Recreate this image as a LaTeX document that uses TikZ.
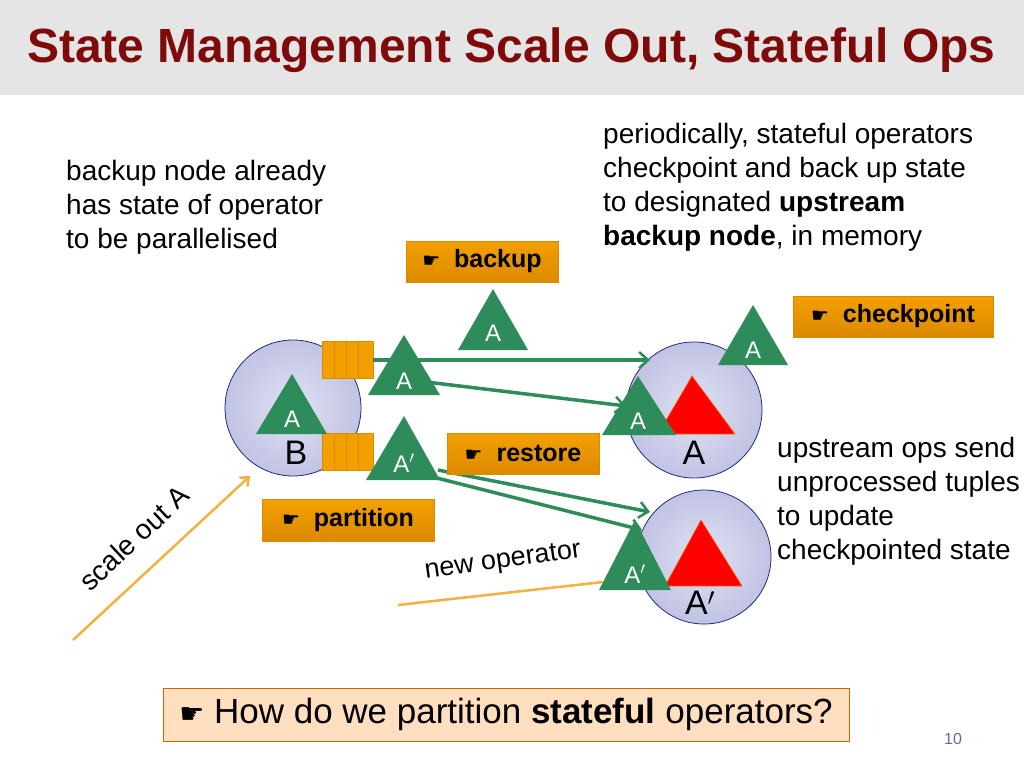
\documentclass[tikz,border=0pt]{standalone}
\usepackage{fontspec}
\setmainfont{Liberation Sans}
\newfontfamily\dejavu{DejaVu Sans}
\usetikzlibrary{arrows.meta}
\definecolor{titlered}{HTML}{7F0A0A}
\definecolor{tgreen}{HTML}{2E8B5A}
\definecolor{org}{HTML}{F2A000}
\definecolor{orgdark}{HTML}{DC8A00}
\definecolor{lav}{HTML}{D4D6F0}
\definecolor{navy}{HTML}{1F2A80}
\definecolor{arrorg}{HTML}{F5B041}
\newcommand{\hand}{{\dejavu\scalebox{0.8}{☛}}}
\tikzset{
  fs/.style={font=\fontsize{#1}{#1}\selectfont},
  txt/.style={align=left, inner sep=0pt, font=\fontsize{28}{34}\selectfont},
  obox/.style={draw=orgdark, line width=0.6pt, top color=org, bottom color=orgdark, inner sep=0pt, font=\fontsize{25}{25}\selectfont\bfseries},
  circ/.style={circle, draw=navy, line width=0.8pt, inner color=white!30!lav, outer color=lav!85!navy!90},
  gtri/.style={fill=tgreen},
  rtri/.style={fill=red, draw=orange!80!red, line width=0.6pt},
  garr/.style={draw=tgreen, line width=3.5pt, -{Straight Barb[length=9pt,width=16pt,line width=2.5pt]}},
  queue/.style={fill=org, draw=orgdark, line width=0.6pt},
  tl/.style={text=white, inner sep=0pt, font=\fontsize{24}{24}\selectfont}
}
\begin{document}
\begin{tikzpicture}[x=1pt,y=-1pt]
\useasboundingbox (0,0) rectangle (1024,768);
\fill[white] (0,0) rectangle (1024,768);
\fill[black!10] (0,0) rectangle (1024,95);
\node[anchor=west, inner sep=0pt, text=titlered, font=\fontsize{48}{48}\selectfont\bfseries] (title) at (27,50) {State Management Scale Out, Stateful Ops};

\node[txt, anchor=north west] (lefttxt) at (66,160) {backup node already\\has state of operator\\to be parallelised};
\node[txt, anchor=north west] (righttxt) at (603,123) {periodically, stateful operators\\checkpoint and back up state\\to designated \textbf{upstream}\\\textbf{backup node}, in memory};
\node[txt, anchor=north west] (uptxt) at (777,437) {upstream ops send\\unprocessed tuples\\to update\\checkpointed state};

% circles
\node[circ, minimum size=136pt] (cB) at (293,408) {};
\node[circ, minimum size=136pt] (cA) at (694,410) {};
\node[circ, minimum size=134pt] (cA2) at (704,557) {};
\node[inner sep=0pt, fs=34] (lB) at (296,453) {B};
\node[inner sep=0pt, fs=34] (lA) at (694,453) {A};
\node[inner sep=0pt, fs=34] (lA2) at (700,603) {A$'$};

% queues
\foreach \y in {341,433}{
  \filldraw[queue] (322,\y) rectangle (373,\y+37);
  \draw[orgdark] (334,\y) -- (334,\y+37) (346,\y) -- (346,\y+37) (358,\y) -- (358,\y+37);
}

% triangles
\fill[gtri] (493,289) -- (528,350) -- (458,350) -- cycle;
\node[tl] (t1) at (493,333) {A};
\fill[gtri] (753,305) -- (788,365) -- (718,365) -- cycle;
\node[tl] (t2) at (753,350) {A};
\fill[gtri] (292,374) -- (327,434) -- (256,434) -- cycle;
\node[tl] (t3) at (292,419) {A};
\fill[gtri] (404,335) -- (440,395) -- (368,395) -- cycle;
\node[tl] (t4) at (404,381) {A};

% arrows
\draw[garr] (373,360) -- (650,360);
\draw[garr] (418,381) -- (626,406);
\draw[garr] (438,470) -- (650,512);
\draw[garr] (425,475) -- (642,530);

\fill[gtri] (404,416) -- (440,480) -- (366,480) -- cycle;
\node[tl] (t5) at (404,463) {A$'$};
\fill[rtri] (692,376) -- (735,434) -- (658,434) -- cycle;
\fill[gtri] (638,376) -- (676,435) -- (602,435) -- cycle;
\node[tl] (t6) at (638,421) {A};
\fill[rtri] (701,520) -- (742,586) -- (665,586) -- cycle;
\fill[gtri] (635,520) -- (671,590) -- (599,590) -- cycle;
\node[tl] (t7) at (635,574) {A$'$};

% boxes
\node[obox, minimum width=152pt, minimum height=41pt] (bbackup) at (482,261.5) {\hand\ \ backup};
\node[obox, minimum width=200pt, minimum height=41pt] (bcheck) at (893,316.5) {\hand\ \ checkpoint};
\node[obox, minimum width=152pt, minimum height=41pt] (brestore) at (523,453.5) {\hand\ \ restore};
\node[obox, minimum width=172pt, minimum height=42pt] (bpart) at (348,520) {\hand\ \ partition};

% orange lines
\coordinate (s0) at (73,640);
\coordinate (s1) at (250,476);
\draw[arrorg, line width=2.5pt, -{Straight Barb[length=7pt,width=12pt]}] (s0) -- (s1);
\node[rotate=43, inner sep=0pt, fs=28] (scale) at (134,538) {scale out A};
\coordinate (n0) at (398,605);
\coordinate (n1) at (603,582);
\draw[arrorg, line width=2.5pt] (n0) -- (n1);
\node[rotate=8, inner sep=0pt, fs=27] (newop) at (503,562) {new operator};

% bottom
\node[draw=orange!80!black, line width=0.8pt, fill=orange!25, minimum width=686pt, minimum height=53pt, inner sep=0pt, font=\fontsize{35}{35}\selectfont] (bottom) at (506,714.5) {\hand\ How do we partition \textbf{stateful} operators?};
\node[inner sep=0pt, text=navy!70, fs=16] (pg) at (953,739) {10};
\end{tikzpicture}
\end{document}
